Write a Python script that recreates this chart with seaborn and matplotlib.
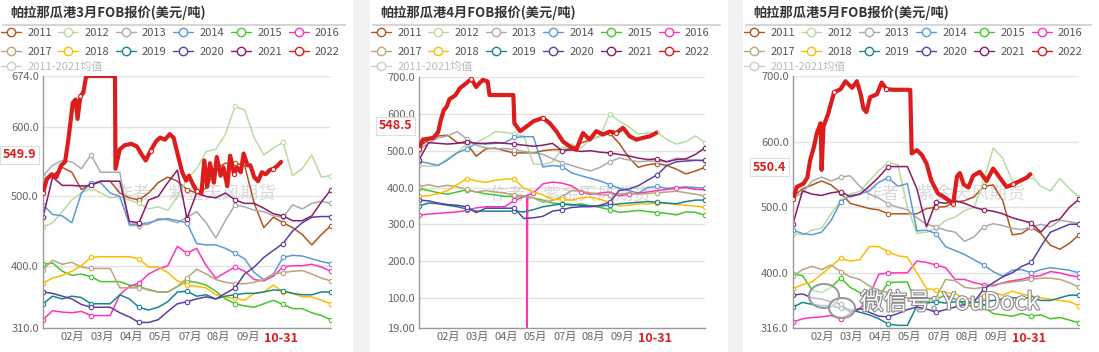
import matplotlib
matplotlib.use("Agg")
import matplotlib.pyplot as plt
import matplotlib.patheffects as pe
from matplotlib.lines import Line2D
from matplotlib.patches import Rectangle, Ellipse
import seaborn as sns

# ---- data ----
years = ["2011", "2012", "2013", "2014", "2015", "2016",
         "2017", "2018", "2019", "2020", "2021", "2022"]
colors = ["#b0561e", "#b9dba0", "#aaaaaa", "#5b9bd5", "#45c72a", "#ff33bb",
          "#b8a67c", "#ffbb00", "#17868a", "#5b3fa6", "#8b1a6b", "#dd1c1c"]
mean_label = "2011-2021均值"

# common x grid (trading-day position along the season axis)
grid_x = list(range(0, 301, 10))
tick_pos = [30.5, 61.5, 92, 122, 153, 183, 213.5, 248]
tick_labels = ["02月", "03月", "04月", "05月", "07月", "08月", "09月", "10-31"]

titles = ["帕拉那瓜港3月FOB报价(美元/吨)", "帕拉那瓜港4月FOB报价(美元/吨)",
          "帕拉那瓜港5月FOB报价(美元/吨)"]

# panel 1: March FOB
p1_yticks = [310, 400, 500, 600, 674]
p1_2011 = [520, 530, 542, 535, 510, 518, 522, 522, 505, 498, 495, 505, 520, 528, 522, 510, 505, 512, 540, 548, 548, 545, 490, 455, 470, 462, 455, 445, 430, 445, 458]
p1_2012 = [456, 462, 478, 495, 505, 512, 505, 498, 500, 495, 490, 482, 485, 480, 500, 525, 540, 565, 568, 590, 630, 625, 585, 560, 570, 578, 530, 540, 560, 528, 530]
p1_2013 = [530, 545, 552, 550, 540, 560, 535, 535, 535, 458, 458, 460, 468, 466, 462, 470, 478, 462, 440, 465, 488, 485, 480, 478, 472, 470, 488, 482, 490, 493, 490]
p1_2014 = [488, 474, 472, 462, 505, 520, 520, 505, 500, 460, 460, 462, 466, 468, 465, 462, 432, 430, 430, 425, 418, 410, 390, 380, 388, 412, 415, 414, 410, 406, 403]
p1_2015 = [402, 404, 392, 386, 388, 384, 377, 377, 377, 372, 370, 365, 362, 362, 370, 378, 376, 372, 363, 352, 345, 342, 340, 345, 350, 344, 338, 338, 332, 328, 322]
p1_2016 = [322, 335, 333, 332, 334, 328, 328, 328, 358, 370, 375, 388, 395, 400, 428, 418, 425, 400, 382, 390, 398, 392, 380, 378, 385, 398, 400, 400, 402, 398, 392]
p1_2017 = [394, 408, 402, 405, 398, 396, 396, 396, 368, 368, 368, 366, 362, 362, 370, 382, 395, 388, 380, 376, 374, 374, 376, 380, 388, 390, 392, 393, 388, 382, 378]
p1_2018 = [375, 382, 386, 392, 400, 412, 413, 413, 413, 413, 410, 398, 398, 390, 378, 372, 370, 368, 358, 354, 353, 350, 360, 362, 372, 362, 360, 355, 355, 350, 345]
p1_2019 = [345, 356, 352, 356, 354, 345, 345, 345, 358, 352, 340, 336, 340, 348, 362, 363, 356, 358, 352, 356, 358, 360, 360, 362, 365, 364, 360, 358, 358, 362, 362]
p1_2020 = [362, 360, 356, 352, 344, 340, 340, 340, 332, 326, 318, 318, 322, 334, 345, 348, 352, 355, 352, 360, 368, 388, 398, 412, 422, 432, 450, 462, 470, 471, 471]
p1_2021 = [470, 528, 516, 516, 515, 516, 522, 522, 522, 464, 462, 495, 500, 520, 538, 468, 505, 500, 498, 505, 495, 490, 490, 483, 475, 472, 465, 465, 472, 492, 510]
p1_2022_x = [0, 4, 9, 14, 19, 23, 26, 28, 31, 34, 36, 39, 42, 45, 75, 75.5, 80, 85, 92, 98, 103, 107, 112, 118, 122, 127, 132, 136, 141, 145, 149, 152, 156, 160, 165, 168, 171, 174, 178, 181, 185, 188, 192, 195, 199, 202, 206, 209, 213, 216, 220, 224, 228, 232, 236, 240, 244, 248]
p1_2022 = [505, 525, 532, 528, 545, 550, 578, 600, 635, 640, 612, 645, 650, 674, 674, 540, 568, 574, 576, 572, 560, 552, 566, 580, 585, 582, 590, 585, 557, 535, 523, 530, 518, 508, 504, 552, 514, 548, 520, 557, 530, 542, 515, 559, 532, 542, 535, 562, 545, 545, 528, 522, 535, 532, 538, 540, 544, 549.9]

# panel 2: April FOB
p2_yticks = [19, 100, 200, 300, 400, 500, 600, 700]
p2_2011 = [512, 528, 540, 542, 522, 520, 485, 505, 507, 500, 494, 494, 494, 500, 503, 503, 505, 521, 530, 540, 548, 520, 482, 455, 462, 465, 460, 450, 437, 445, 455]
p2_2012 = [460, 458, 460, 478, 495, 518, 522, 535, 552, 550, 546, 540, 464, 462, 470, 505, 518, 508, 530, 540, 600, 580, 565, 545, 548, 550, 530, 518, 525, 540, 522]
p2_2013 = [503, 520, 535, 540, 552, 532, 515, 508, 505, 506, 503, 498, 494, 490, 478, 468, 460, 452, 445, 455, 470, 480, 475, 470, 472, 472, 470, 480, 476, 474, 472]
p2_2014 = [471, 466, 460, 475, 494, 505, 520, 518, 520, 522, 536, 538, 538, 456, 460, 457, 440, 432, 425, 418, 408, 398, 392, 385, 400, 403, 398, 400, 402, 400, 398]
p2_2015 = [398, 392, 386, 382, 388, 394, 388, 383, 380, 376, 376, 378, 372, 366, 358, 355, 352, 356, 350, 346, 340, 333, 335, 338, 335, 332, 330, 326, 334, 333, 325]
p2_2016_x = [0, 10, 20, 30, 40, 50, 60, 70, 80, 90, 100, 110, 113, 113.5, 114, 120, 130, 140, 150, 160, 170, 180, 190, 200, 210, 220, 230, 240, 250, 260, 270, 280, 290, 300]
p2_2016 = [325, 328, 330, 332, 334, 338, 345, 348, 348, 348, 365, 375, 378, 19, 380, 385, 410, 415, 412, 405, 388, 382, 385, 388, 378, 382, 385, 388, 392, 395, 398, 400, 395, 394]
p2_2017 = [402, 408, 402, 406, 402, 395, 388, 392, 388, 385, 380, 376, 372, 360, 365, 375, 392, 390, 385, 380, 380, 382, 385, 382, 384, 386, 388, 390, 386, 382, 377]
p2_2018 = [376, 378, 383, 392, 408, 424, 418, 414, 420, 423, 423, 398, 388, 380, 368, 368, 366, 372, 374, 368, 360, 350, 352, 356, 356, 358, 357, 354, 352, 350, 346]
p2_2019 = [350, 358, 356, 352, 348, 342, 336, 336, 336, 336, 336, 334, 340, 348, 352, 356, 354, 352, 350, 350, 352, 356, 358, 360, 362, 360, 358, 356, 362, 366, 366]
p2_2020 = [366, 364, 358, 354, 352, 348, 332, 344, 344, 344, 344, 316, 318, 322, 336, 340, 346, 348, 348, 352, 360, 392, 396, 405, 420, 435, 460, 470, 472, 474, 474]
p2_2021 = [475, 522, 520, 518, 520, 525, 520, 520, 522, 520, 518, 515, 512, 515, 520, 500, 502, 498, 500, 496, 494, 490, 486, 480, 476, 478, 470, 476, 478, 490, 508]
p2_2022_x = [0, 4, 15, 20, 23, 26, 29, 32, 38, 43, 50, 55, 60, 64, 67, 72, 74, 99, 100, 106, 113, 120, 130, 137, 144, 151, 158, 165, 172, 179, 186, 193, 200, 207, 214, 221, 228, 235, 242, 249]
p2_2022 = [505, 530, 535, 550, 584, 610, 619, 640, 650, 670, 684, 695, 673, 685, 692, 688, 651, 651, 575, 553, 566, 580, 589, 575, 553, 525, 512, 503, 548, 530, 553, 544, 552, 548, 562, 539, 530, 535, 539, 548.5]

# panel 3: May FOB
p3_yticks = [316, 400, 500, 600, 700]
p3_2011 = [516, 528, 534, 540, 534, 522, 506, 502, 498, 496, 490, 490, 490, 490, 498, 500, 501, 508, 510, 516, 532, 534, 510, 458, 460, 470, 460, 442, 436, 445, 458]
p3_2012 = [460, 458, 465, 468, 490, 510, 520, 524, 540, 556, 568, 565, 500, 460, 462, 468, 480, 485, 495, 500, 540, 590, 575, 540, 540, 548, 532, 525, 544, 528, 516]
p3_2013 = [514, 522, 540, 546, 540, 546, 548, 532, 520, 514, 505, 500, 496, 484, 474, 470, 465, 462, 448, 455, 470, 475, 472, 468, 466, 470, 474, 470, 480, 478, 475]
p3_2014 = [465, 460, 458, 462, 480, 508, 518, 520, 525, 538, 545, 532, 536, 464, 465, 460, 440, 434, 428, 420, 412, 402, 395, 404, 405, 400, 405, 408, 406, 404, 400]
p3_2015 = [398, 396, 374, 370, 378, 392, 378, 370, 364, 364, 385, 386, 386, 350, 362, 360, 366, 360, 352, 348, 348, 338, 336, 334, 338, 334, 336, 330, 332, 328, 324]
p3_2016 = [325, 330, 332, 333, 335, 330, 338, 345, 365, 398, 400, 400, 400, 418, 416, 412, 408, 390, 390, 385, 382, 380, 385, 388, 390, 394, 396, 402, 400, 396, 394]
p3_2017 = [395, 405, 410, 405, 412, 402, 394, 390, 380, 373, 370, 366, 362, 360, 360, 362, 390, 388, 378, 376, 378, 382, 384, 386, 388, 390, 392, 392, 390, 385, 378]
p3_2018 = [376, 382, 386, 398, 410, 422, 418, 420, 440, 440, 432, 426, 424, 400, 376, 374, 370, 368, 362, 360, 365, 370, 366, 372, 368, 364, 362, 360, 358, 356, 350]
p3_2019 = [348, 355, 352, 350, 350, 346, 344, 340, 336, 330, 322, 320, 320, 350, 354, 356, 354, 356, 356, 355, 356, 358, 360, 362, 362, 362, 358, 358, 362, 366, 366]
p3_2020 = [366, 368, 362, 360, 356, 352, 340, 346, 340, 334, 333, 338, 344, 348, 345, 340, 344, 348, 352, 356, 375, 385, 394, 400, 410, 416, 440, 462, 468, 474, 474]
p3_2021 = [475, 525, 520, 518, 522, 524, 516, 520, 532, 546, 562, 562, 562, 528, 470, 508, 506, 510, 506, 500, 496, 494, 490, 484, 480, 476, 462, 478, 482, 500, 512]
p3_2022_x = [0, 4, 11, 15, 18, 22, 25, 29, 30, 32, 37, 43, 50, 55, 62, 67, 71, 74, 77, 81, 88, 93, 98, 105, 123, 124.5, 130, 135, 140, 145, 152, 158, 163, 168, 172, 175, 179, 184, 189, 196, 203, 210, 217, 224, 231, 238, 245, 249]
p3_2022 = [512, 531, 536, 545, 572, 592, 613, 628, 557, 623, 643, 675, 680, 692, 682, 692, 672, 650, 645, 668, 672, 690, 680, 679, 679, 582, 587, 580, 567, 541, 521, 516, 511, 505, 547, 552, 535, 530, 548, 554, 540, 559, 545, 531, 535, 540, 545, 550.4]

# per panel series: (x, y) for 2011..2021, then 2022
panels = [
    dict(title=titles[0], yticks=p1_yticks,
         hist=[(grid_x, s) for s in [p1_2011, p1_2012, p1_2013, p1_2014, p1_2015, p1_2016,
                                    p1_2017, p1_2018, p1_2019, p1_2020, p1_2021]],
         cur=(p1_2022_x, p1_2022)),
    dict(title=titles[1], yticks=p2_yticks,
         hist=[(grid_x, p2_2011), (grid_x, p2_2012), (grid_x, p2_2013), (grid_x, p2_2014),
               (grid_x, p2_2015), (p2_2016_x, p2_2016), (grid_x, p2_2017), (grid_x, p2_2018),
               (grid_x, p2_2019), (grid_x, p2_2020), (grid_x, p2_2021)],
         cur=(p2_2022_x, p2_2022)),
    dict(title=titles[2], yticks=p3_yticks,
         hist=[(grid_x, s) for s in [p3_2011, p3_2012, p3_2013, p3_2014, p3_2015, p3_2016,
                                    p3_2017, p3_2018, p3_2019, p3_2020, p3_2021]],
         cur=(p3_2022_x, p3_2022)),
]

# ---- layout (pixels) ----
W, H = 1099, 352
panel_left = [0, 370, 743]
panel_width = [353, 358, 356]
axes_box = [(43, 331, 76), (419, 705, 77), (793, 1079, 76)]  # left, right, top
axes_bottom = 328


def fx(px):
    return px / W


def fy(py):
    return 1 - py / H


sns.set_theme(style="white")
plt.rcParams['font.family'] = ['Noto Sans CJK SC', 'DejaVu Sans']
plt.rcParams['axes.unicode_minus'] = False

fig = plt.figure(figsize=(W / 100, H / 100), dpi=100, facecolor="#f2f2f2")

red = colors[-1]
for pi, p in enumerate(panels):
    ox, pw = panel_left[pi], panel_width[pi]
    fig.add_artist(Rectangle((fx(ox), 0), fx(pw), 1, transform=fig.transFigure,
                             facecolor="white", edgecolor="none", zorder=-10))
    fig.text(fx(ox + 10), fy(13), p["title"], ha="left", va="center",
             fontsize=9.5, fontweight="bold", color="#333333")
    fig.add_artist(Line2D([fx(ox + 3), fx(ox + pw - 8)], [fy(25), fy(25)],
                          transform=fig.transFigure, color="#d6d6d6", lw=1.5))

    l, r, t = axes_box[pi]
    ax = fig.add_axes([fx(l), fy(axes_bottom), fx(r - l), (axes_bottom - t) / H])
    ax.set_facecolor("white")

    # historical years
    for (xs, ys), c in zip(p["hist"], colors[:-1]):
        sns.lineplot(x=xs, y=ys, ax=ax, color=c, lw=1.1, marker="o", markevery=5,
                     ms=3.2, mfc="white", mec=c, mew=0.8, zorder=2)
    # current year
    cx, cy = p["cur"]
    sns.lineplot(x=cx, y=cy, ax=ax, color=red, lw=3.0, marker="o", markevery=11,
                 ms=3, mfc="white", mec=red, mew=0.8, zorder=3)

    yt = p["yticks"]
    ax.set_xlim(0, 300)
    ax.set_ylim(yt[0], yt[-1])
    ax.set_yticks(yt)
    ax.set_yticklabels([f"{v:.2f}" if v < 100 else f"{v:.1f}" for v in yt])
    ax.set_xticks(tick_pos)
    ax.set_xticklabels(tick_labels)
    ax.set_xlabel("")
    ax.set_ylabel("")
    ax.grid(axis="y", color="#e3e3e3", lw=1)
    ax.grid(axis="x", visible=False)
    ax.set_axisbelow(True)
    for s in ["top", "right"]:
        ax.spines[s].set_visible(False)
    for s in ["left", "bottom"]:
        ax.spines[s].set_color("#999999")
        ax.spines[s].set_linewidth(1)
    ax.tick_params(axis="both", length=0, labelsize=8, labelcolor="#666666", pad=3)
    last = ax.get_xticklabels()[-1]
    last.set_color(red)
    last.set_fontweight("bold")
    last.set_fontsize(9)

    # latest value tag on the y axis
    ax.annotate(f"{cy[-1]:.1f}", xy=(0, cy[-1]), xycoords=("axes fraction", "data"),
                xytext=(-5, 5), textcoords="offset points", ha="right", va="center",
                color=red, fontweight="bold", fontsize=9, annotation_clip=False,
                bbox=dict(boxstyle="square,pad=0.2", fc="white", ec="#dddddd", lw=0.8))

    # watermark
    ax.text(0.53, 0.53, "作者：紫金天风期货", transform=ax.transAxes, ha="center",
            va="center", fontsize=13, color="#bbbbbb", alpha=0.55, zorder=1)

    # legend: 2 rows x 6, row-major order
    handles = [Line2D([], [], color=c, lw=1, marker="o", ms=6, mfc="white", mec=c, mew=1)
               for c in colors]
    order = [row * 6 + col for col in range(6) for row in range(2)]
    leg = ax.legend([handles[i] for i in order], [years[i] for i in order], ncol=6,
                    loc="upper left", bbox_to_anchor=(fx(ox + 1), fy(28)),
                    bbox_transform=fig.transFigure, frameon=False, fontsize=8,
                    labelcolor="#555555", handlelength=1.8, handletextpad=0.55,
                    columnspacing=0.6, labelspacing=0.8, borderpad=0, borderaxespad=0)
    ax.add_artist(leg)
    mean_h = Line2D([], [], color="#cccccc", lw=1, marker="o", ms=6, mfc="white", mec="#cccccc")
    ax.legend([mean_h], [mean_label], loc="upper left", bbox_to_anchor=(fx(ox + 1), fy(62)),
              bbox_transform=fig.transFigure, frameon=False, fontsize=8,
              labelcolor="#bbbbbb", handlelength=1.8, handletextpad=0.55,
              borderpad=0, borderaxespad=0)

# WeChat watermark on the right panel
for (ex, ey, ew, eh) in [(824, 296, 30, 24), (842, 308, 26, 20)]:
    fig.add_artist(Ellipse((fx(ex), fy(ey)), ew / W, eh / H, transform=fig.transFigure,
                           facecolor=(1, 1, 1, 0.6), edgecolor="#999999", lw=1.5, zorder=5))
fig.text(fx(860), fy(303), "微信号: YouDock", ha="left", va="center", fontsize=17,
         color="white", zorder=6,
         path_effects=[pe.withStroke(linewidth=1.6, foreground="#8a8a8a")])

fig.savefig("out.png", dpi=100, facecolor=fig.get_facecolor())
